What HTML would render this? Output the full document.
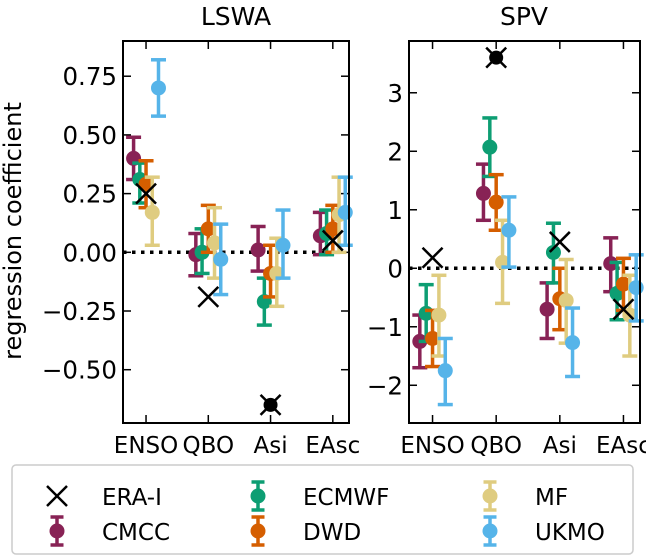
<!DOCTYPE html>
<html><head><meta charset="utf-8"><style>
body{margin:0;background:#fff;}
svg{display:block;font-family:"DejaVu Sans","Liberation Sans",sans-serif;}
</style></head><body>
<svg id="c" width="646" height="558" viewBox="0 0 646 558">
<text x="236" y="25" font-size="25" text-anchor="middle">LSWA</text>
<text x="524" y="25" font-size="25" text-anchor="middle">SPV</text>
<text transform="translate(21,231) rotate(-90)" font-size="24" text-anchor="middle">regression coefficient</text>
<g id="legend">
<rect x="12" y="465" width="621" height="89" rx="4" fill="#fff" stroke="#ccc" stroke-width="1.5"/>
</g>
</svg>
<script>
const categories=["ENSO","QBO","Asi","EAsc"];
const models=["CMCC","ECMWF","DWD","MF","UKMO"];
const colors=["#882255","#0d9e73","#d55e00","#dfcc80","#56b4e9"];
const offsets=[-0.2,-0.1,0,0.1,0.2];
const lswaVal=[[0.40,-0.01,0.01,0.07],[0.31,0.00,-0.21,0.08],[0.29,0.10,-0.09,0.10],[0.17,0.04,-0.09,0.16],[0.70,-0.03,0.03,0.17]];
const lswaLo=[[0.31,-0.10,-0.08,-0.01],[0.21,-0.09,-0.31,-0.01],[0.19,0.00,-0.19,0.00],[0.03,-0.11,-0.23,0.00],[0.58,-0.18,-0.11,0.03]];
const lswaHi=[[0.49,0.08,0.11,0.17],[0.38,0.10,-0.11,0.18],[0.39,0.20,0.03,0.20],[0.32,0.19,0.06,0.32],[0.82,0.12,0.18,0.32]];
const lswaEra=[0.25,-0.19,-0.65,0.05];
const spvVal=[[-1.25,1.28,-0.70,0.08],[-0.77,2.07,0.27,-0.43],[-1.20,1.13,-0.52,-0.27],[-0.80,0.10,-0.55,-0.80],[-1.75,0.65,-1.27,-0.33]];
const spvLo=[[-1.70,0.82,-1.20,-0.40],[-1.25,1.57,-0.25,-0.88],[-1.68,0.65,-1.05,-0.72],[-1.50,-0.60,-1.28,-1.50],[-2.33,0.02,-1.85,-0.90]];
const spvHi=[[-0.80,1.78,-0.25,0.52],[-0.28,2.57,0.77,0.10],[-0.72,1.60,0.00,0.17],[-0.12,0.82,0.15,-0.12],[-1.20,1.22,-0.68,0.23]];
const spvEra=[0.18,3.60,0.45,-0.70];
const lswaTicks=[0.75,0.50,0.25,0.00,-0.25,-0.50];
const lswaTickLabels=["0.75","0.50","0.25","0.00","\u22120.25","\u22120.50"];
const spvTicks=[3,2,1,0,-1,-2];
const spvTickLabels=["3","2","1","0","\u22121","\u22122"];

const NS="http://www.w3.org/2000/svg";
const svg=document.getElementById('c');
function mk(tag,attrs,parent){const e=document.createElementNS(NS,tag);for(const k in attrs)e.setAttribute(k,attrs[k]);(parent||svg).appendChild(e);return e;}

function panel(name,x0,x1,y0,y1,vmin,vmax,vals,los,his,era,ticks,tickLabels,dotIdx){
  const g=mk('g',{});
  
  
  const step=(x1-x0)/3.63;
  const X=i=>x0+(i+0.37)*step;
  const Y=v=>y1-(v-vmin)/(vmax-vmin)*(y1-y0);
  const z=mk('line',{x1:x0,x2:x1,y1:Y(0),y2:Y(0),stroke:'#000','stroke-width':3.5,'stroke-dasharray':'3.5 5.5'},g);
  
  
  ticks.forEach((t,k)=>{
    const y=Y(t);
    mk('line',{x1:x0,x2:x0+8,y1:y,y2:y,stroke:'#000','stroke-width':1.5},g);
    mk('line',{x1:x1,x2:x1-8,y1:y,y2:y,stroke:'#000','stroke-width':1.5},g);
    const tl=mk('text',{x:x0-6,y:y+9,'font-size':24.5,'text-anchor':'end'},g);
    tl.textContent=tickLabels[k];
    
    
  });
  categories.forEach((c,i)=>{
    const x=X(i);
    mk('line',{x1:x,x2:x,y1:y1,y2:y1-8,stroke:'#000','stroke-width':1.5},g);
    mk('line',{x1:x,x2:x,y1:y0,y2:y0+8,stroke:'#000','stroke-width':1.5},g);
    const tl=mk('text',{x:x,y:y1+30,'font-size':23,'text-anchor':'middle'},g);
    tl.textContent=c;
    
    
  });
  models.forEach((m,j)=>{
    categories.forEach((c,i)=>{
      const x=X(i+offsets[j]);
      const s=mk('g',{stroke:colors[j],fill:colors[j],'stroke-width':3.5},g);
      
      
      mk('line',{x1:x,x2:x,y1:Y(los[j][i]),y2:Y(his[j][i])},s);
      mk('line',{x1:x-7.5,x2:x+7.5,y1:Y(los[j][i]),y2:Y(los[j][i])},s);
      mk('line',{x1:x-7.5,x2:x+7.5,y1:Y(his[j][i]),y2:Y(his[j][i])},s);
      mk('circle',{cx:x,cy:Y(vals[j][i]),r:7.5,stroke:'none'},s);
    });
  });
  era.forEach((v,i)=>{
    const x=X(i),y=Y(v);
    const e=mk('g',{stroke:'#000','stroke-width':2.5},g);
    
    
    if(i===dotIdx) mk('circle',{cx:x,cy:y,r:7,fill:'#000',stroke:'none'},e);
    mk('line',{x1:x-10,x2:x+10,y1:y-10,y2:y+10},e);
    mk('line',{x1:x-10,x2:x+10,y1:y+10,y2:y-10},e);
  });
  const f=mk('rect',{x:x0,y:y0,width:x1-x0,height:y1-y0,fill:'none',stroke:'#000','stroke-width':2},g);
  
  
}
panel('lswa',123,349,41,423,-0.727,0.900,lswaVal,lswaLo,lswaHi,lswaEra,lswaTicks,lswaTickLabels,2);
panel('spv',409,640,41,423,-2.645,3.885,spvVal,spvLo,spvHi,spvEra,spvTicks,spvTickLabels,1);

const lg=document.getElementById('legend');
const entries=[["ERA-I",null,57,496],["CMCC",0,57,531],["ECMWF",1,258,496],["DWD",2,258,531],["MF",3,490,496],["UKMO",4,490,531]];
entries.forEach(([lab,ci,x,y])=>{
  const e=mk('g',{},lg);
  
  
  if(ci===null){
    mk('line',{x1:x-10,x2:x+10,y1:y-10,y2:y+10,stroke:'#000','stroke-width':2.5},e);
    mk('line',{x1:x-10,x2:x+10,y1:y+10,y2:y-10,stroke:'#000','stroke-width':2.5},e);
  } else {
    const s=mk('g',{stroke:colors[ci],fill:colors[ci],'stroke-width':3.5},e);
    mk('line',{x1:x,x2:x,y1:y-14,y2:y+14},s);
    mk('line',{x1:x-6.5,x2:x+6.5,y1:y-14,y2:y-14},s);
    mk('line',{x1:x-6.5,x2:x+6.5,y1:y+14,y2:y+14},s);
    mk('circle',{cx:x,cy:y,r:7.5,stroke:'none'},s);
  }
  const t=mk('text',{x:x+45,y:y+9,'font-size':23},e);
  t.textContent=lab;
});
</script>
</body></html>
